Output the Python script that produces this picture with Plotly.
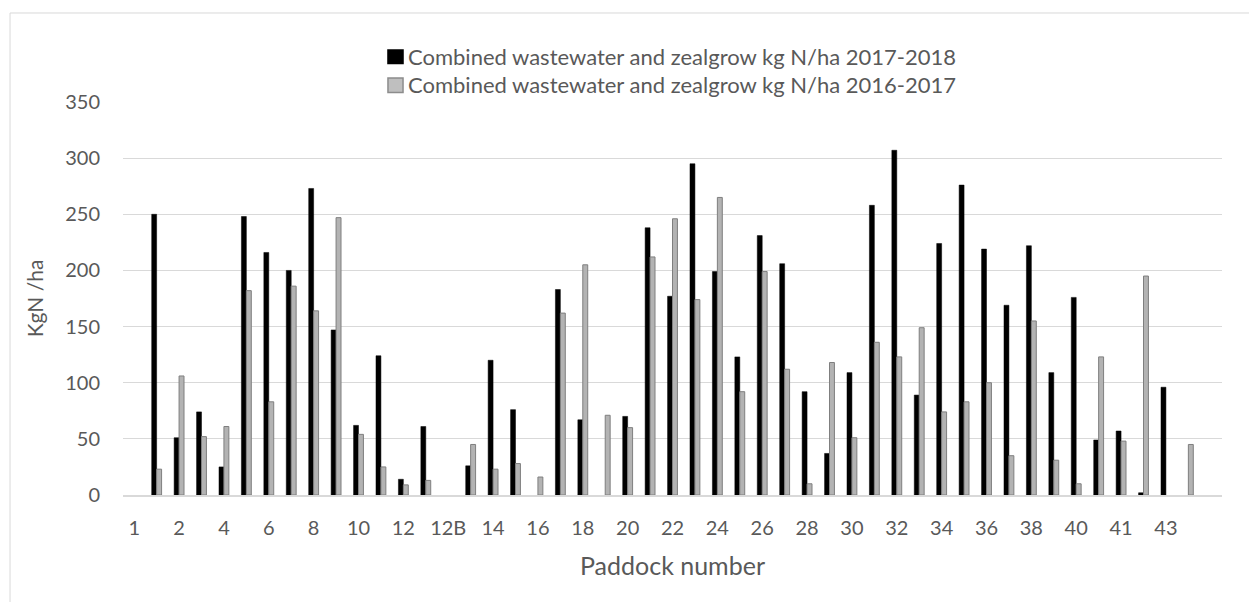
import plotly.graph_objects as go

# Paddock categories along the x axis (only every second one is labelled)
categories = [
    "1", "1B", "2", "3", "4", "5", "6", "7", "8", "9", "10", "11", "12",
    "12A", "12B", "13", "14", "15", "16", "17", "18", "19", "20", "21", "22",
    "23", "24", "25", "26", "27", "28", "29", "30", "31", "32", "33", "34",
    "35", "36", "37", "38", "39", "40", "40B", "41", "42", "43", "44", " ",
]

# kg N/ha applied per paddock
n_2017_2018 = [
    None, 250, 51, 74, 25, 248, 216, 200, 273, 147, 62, 124, 14,
    61, None, 26, 120, 76, None, 183, 67, None, 70, 238, 177,
    295, 199, 123, 231, 206, 92, 37, 109, 258, 307, 89, 224,
    276, 219, 169, 222, 109, 176, 49, 57, 2, 96, None, None,
]
n_2016_2017 = [
    None, 23, 106, 52, 61, 182, 83, 186, 164, 247, 54, 25, 9,
    13, None, 45, 23, 28, 16, 162, 205, 71, 60, 212, 246,
    174, 265, 92, 199, 112, 10, 118, 51, 136, 123, 149, 74,
    83, 100, 35, 155, 31, 10, 123, 48, 195, None, 45, None,
]

series_names = [
    "Combined wastewater and zealgrow kg N/ha 2017-2018",
    "Combined wastewater and zealgrow kg N/ha 2016-2017",
]

tick_labels = [c for c in categories[::2] if c.strip()]

FONT = "Lato"
TEXT = "#595959"
GRID = "#d9d9d9"
FILL = ["#000000", "#b3b3b3"]
EDGE = ["#000000", "#7f7f7f"]
KEY_FILL = ["#000000", "#bfbfbf"]
KEY_EDGE = ["#000000", "#8c8c8c"]

fig = go.Figure()
for values, name, fill, edge, w in zip(
    [n_2017_2018, n_2016_2017], series_names, FILL, EDGE, [0.5, 1]
):
    fig.add_trace(go.Bar(
        x=categories, y=values, name=name, showlegend=False,
        marker=dict(color=fill, line=dict(color=edge, width=w)),
    ))

# Key above the plot: a small swatch followed by the series name, one per row
key_rows = [(1.098, 1.1323, 1.117), (1.0242, 1.0611, 1.0458)]
shapes = [dict(
    type="rect", xref="paper", yref="paper",
    x0=-0.1028, x1=1.2, y0=-0.5, y1=1.2265,
    line=dict(color=GRID, width=1), fillcolor="rgba(0,0,0,0)", layer="below",
)]
annotations = []
for (y0, y1, yt), name, fill, edge in zip(key_rows, series_names, KEY_FILL, KEY_EDGE):
    shapes.append(dict(
        type="rect", xref="paper", yref="paper",
        x0=0.2411, x1=0.2548, y0=y0, y1=y1,
        fillcolor=fill, line=dict(color=edge, width=1.5),
    ))
    annotations.append(dict(
        xref="paper", yref="paper", x=0.2575, y=yt,
        xanchor="left", yanchor="middle", showarrow=False,
        text=name, font=dict(family=FONT, size=22, color=TEXT),
    ))

fig.update_layout(
    width=1249, height=602,
    margin=dict(l=123, r=27, t=102, b=107),
    paper_bgcolor="white", plot_bgcolor="white",
    barmode="group", bargap=0.56, bargroupgap=0,
    font=dict(family=FONT, color=TEXT, size=20),
    showlegend=False,
    shapes=shapes,
    annotations=annotations,
)

fig.update_xaxes(
    type="category", categoryorder="array", categoryarray=categories,
    range=[-0.5, len(categories) - 0.5],
    tickmode="array", tickvals=tick_labels, ticktext=tick_labels,
    showgrid=False, showline=True, linecolor=GRID, linewidth=1.5,
    ticks="", ticklabelstandoff=14,
    tickfont=dict(family=FONT, size=20, color=TEXT),
    title=dict(text="Paddock number", font=dict(family=FONT, size=25, color=TEXT), standoff=20),
    automargin=False,
)
fig.update_yaxes(
    range=[0, 350], dtick=50, tick0=0,
    showgrid=True, gridcolor=GRID, gridwidth=1.3,
    zeroline=False, showline=False, ticks="",
    ticklabelstandoff=22,
    tickfont=dict(family=FONT, size=20, color=TEXT),
    title=dict(text="KgN /ha", font=dict(family=FONT, size=21, color=TEXT), standoff=15),
    automargin=False,
)

fig.write_html("out.html")
